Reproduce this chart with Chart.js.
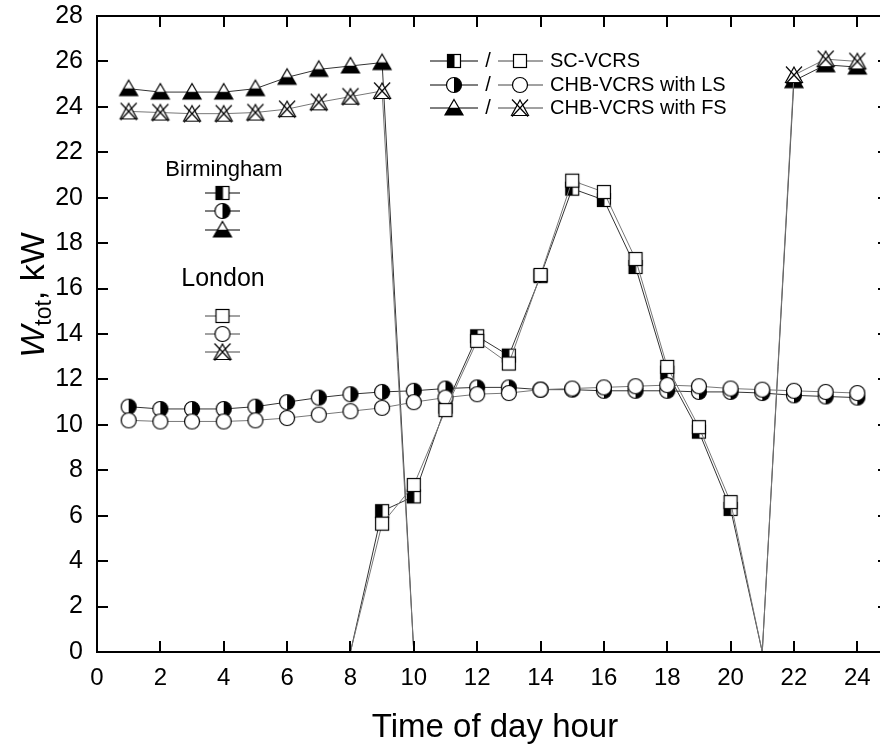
<!DOCTYPE html>
<html>
<head>
<meta charset="utf-8">
<title>W_tot vs time of day</title>
<script src="https://cdn.jsdelivr.net/npm/chart.js@4.4.1/dist/chart.umd.min.js"></script>
<style>
  html, body { margin: 0; padding: 0; background: #fff; overflow: hidden; }
  canvas { display: block; }
</style>
</head>
<body>
<canvas id="wtotChart" width="898" height="747"></canvas>
<script>
const FONT = "'Liberation Sans', Arial, sans-serif";

const hours = [1, 2, 3, 4, 5, 6, 7, 8, 9, 10, 11, 12, 13, 14, 15, 16, 17, 18, 19, 20, 21, 22, 23, 24];

// Birmingham
const bhamSC = [null, null, null, null, null, null, null, 0, 6.2, 6.85, 10.8, 13.9, 13.05, 16.55, 20.4, 19.9, 16.95, 12.3, 9.7, 6.3, 0, null, null, null];
const bhamLS = [10.8, 10.7, 10.7, 10.7, 10.8, 11.0, 11.2, 11.35, 11.45, 11.5, 11.6, 11.65, 11.65, 11.55, 11.55, 11.5, 11.5, 11.5, 11.45, 11.45, 11.4, 11.3, 11.25, 11.2];
const bhamFS = [24.8, 24.65, 24.65, 24.65, 24.8, 25.3, 25.65, 25.8, 25.95, 0, null, null, null, null, null, null, null, null, null, null, 0, 25.15, 25.85, 25.75];

// London
const londonSC = [null, null, null, null, null, null, null, 0, 5.65, 7.35, 10.65, 13.7, 12.7, 16.6, 20.75, 20.25, 17.3, 12.55, 9.9, 6.6, 0, null, null, null];
const londonLS = [10.2, 10.15, 10.15, 10.15, 10.2, 10.3, 10.45, 10.6, 10.75, 11.0, 11.2, 11.35, 11.4, 11.55, 11.6, 11.65, 11.7, 11.75, 11.7, 11.6, 11.55, 11.5, 11.45, 11.4];
const londonFS = [23.8, 23.75, 23.7, 23.7, 23.75, 23.9, 24.2, 24.45, 24.7, 0, null, null, null, null, null, null, null, null, null, null, 0, 25.4, 26.1, 26.0];

const seriesNames = ['SC-VCRS', 'CHB-VCRS with LS', 'CHB-VCRS with FS'];

const BHAM_LINE = '#333';
const LONDON_LINE = '#777';

// small canvases used as point styles
function makeMarker(kind) {
  const c = document.createElement('canvas');
  c.width = 22; c.height = 22;
  const g = c.getContext('2d');
  g.translate(11, 11);
  g.lineWidth = 1.2;
  g.strokeStyle = '#000';
  g.fillStyle = '#fff';
  if (kind === 'square' || kind === 'squareHalf') {
    g.fillRect(-6.5, -6.5, 13, 13);
    if (kind === 'squareHalf') {
      g.fillStyle = '#000';
      g.fillRect(-6.5, -6.5, 7, 13);
    }
    g.strokeRect(-6.5, -6.5, 13, 13);
  } else if (kind === 'circle' || kind === 'circleHalf') {
    g.beginPath(); g.arc(0, 0, 7.5, 0, Math.PI * 2); g.fill();
    if (kind === 'circleHalf') {
      g.fillStyle = '#000';
      g.beginPath(); g.arc(0, 0, 7.5, -Math.PI / 2, Math.PI / 2); g.closePath(); g.fill();
    }
    g.beginPath(); g.arc(0, 0, 7.5, 0, Math.PI * 2); g.stroke();
  } else if (kind === 'triHalf') {
    g.beginPath(); g.moveTo(0, -8.5); g.lineTo(9, 7); g.lineTo(-9, 7); g.closePath(); g.fill();
    g.fillStyle = '#000';
    g.beginPath(); g.moveTo(-4.9, -0.2); g.lineTo(4.9, -0.2); g.lineTo(9, 7); g.lineTo(-9, 7); g.closePath(); g.fill();
    g.beginPath(); g.moveTo(0, -8.5); g.lineTo(9, 7); g.lineTo(-9, 7); g.closePath(); g.stroke();
  } else if (kind === 'triX') {
    g.beginPath(); g.moveTo(0, -8); g.lineTo(8.5, 7.5); g.lineTo(-8.5, 7.5); g.closePath(); g.fill(); g.stroke();
    g.beginPath();
    g.moveTo(-8, -8.5); g.lineTo(8, 8.5);
    g.moveTo(8, -8.5); g.lineTo(-8, 8.5);
    g.stroke();
  }
  return c;
}

const bhamMarkers = [makeMarker('squareHalf'), makeMarker('circleHalf'), makeMarker('triHalf')];
const londonMarkers = [makeMarker('square'), makeMarker('circle'), makeMarker('triX')];

function toPoints(vals) {
  return hours.map((h, i) => ({ x: h, y: vals[i] }));
}

function makeDataset(label, vals, marker, color, order) {
  return {
    label: label,
    data: toPoints(vals),
    borderColor: color,
    borderWidth: 1,
    tension: 0,
    spanGaps: false,
    pointStyle: marker,
    pointRadius: ctx => (ctx.raw && ctx.raw.y === 0) ? 0 : 8,
    order: order
  };
}

const datasets = [
  makeDataset('Birmingham ' + seriesNames[0], bhamSC, bhamMarkers[0], BHAM_LINE, 2),
  makeDataset('Birmingham ' + seriesNames[1], bhamLS, bhamMarkers[1], BHAM_LINE, 2),
  makeDataset('Birmingham ' + seriesNames[2], bhamFS, bhamMarkers[2], BHAM_LINE, 2),
  makeDataset('London ' + seriesNames[0], londonSC, londonMarkers[0], LONDON_LINE, 1),
  makeDataset('London ' + seriesNames[1], londonLS, londonMarkers[1], LONDON_LINE, 1),
  makeDataset('London ' + seriesNames[2], londonFS, londonMarkers[2], LONDON_LINE, 1)
];

// box around the plot with inward tick marks
const framePlugin = {
  id: 'frame',
  afterDatasetsDraw(chart) {
    const ctx = chart.ctx, a = chart.chartArea;
    const xs = chart.scales.x, ys = chart.scales.y;
    const tl = 11;
    ctx.save();
    ctx.strokeStyle = '#000';
    ctx.lineWidth = 2;
    ctx.strokeRect(a.left, a.top, a.right - a.left, a.bottom - a.top);
    ctx.beginPath();
    xs.ticks.forEach(t => {
      const px = Math.round(xs.getPixelForValue(t.value));
      ctx.moveTo(px, a.bottom); ctx.lineTo(px, a.bottom - tl);
      ctx.moveTo(px, a.top); ctx.lineTo(px, a.top + tl);
    });
    ys.ticks.forEach(t => {
      const py = Math.round(ys.getPixelForValue(t.value));
      ctx.moveTo(a.left, py); ctx.lineTo(a.left + tl, py);
      ctx.moveTo(a.right, py); ctx.lineTo(a.right - tl, py);
    });
    ctx.stroke();
    ctx.restore();
  }
};

function lineWithMarker(ctx, x1, x2, y, mx, marker, color) {
  ctx.strokeStyle = color;
  ctx.lineWidth = 1;
  ctx.beginPath();
  ctx.moveTo(x1, y); ctx.lineTo(x2, y);
  ctx.stroke();
  ctx.drawImage(marker, mx - marker.width / 2, y - marker.height / 2);
}

// legend, city keys and axis titles
const textPlugin = {
  id: 'texts',
  afterDraw(chart) {
    const ctx = chart.ctx;
    ctx.save();
    ctx.fillStyle = '#000';

    // legend block
    const rows = [61, 85, 108];
    ctx.font = '20px ' + FONT;
    ctx.textBaseline = 'middle';
    rows.forEach((y, i) => {
      lineWithMarker(ctx, 430, 478, y, 454, bhamMarkers[i], '#000');
      ctx.fillStyle = '#000';
      ctx.textAlign = 'center';
      ctx.fillText('/', 488, y);
      lineWithMarker(ctx, 498, 543, y, 520, londonMarkers[i], '#444');
      ctx.textAlign = 'left';
      ctx.fillText(seriesNames[i], 550, y);
    });

    // city keys
    ctx.textAlign = 'center';
    ctx.font = '22px ' + FONT;
    ctx.fillText('Birmingham', 224, 170);
    [193, 211, 230].forEach((y, i) => lineWithMarker(ctx, 205, 240, y, 222.5, bhamMarkers[i], '#000'));
    ctx.font = '25px ' + FONT;
    ctx.fillText('London', 223, 279);
    [316, 334, 352].forEach((y, i) => lineWithMarker(ctx, 205, 240, y, 222.5, londonMarkers[i], '#444'));

    // x title
    ctx.font = '33px ' + FONT;
    ctx.textBaseline = 'alphabetic';
    ctx.fillText('Time of day hour', 495, 737);

    // y title: W_tot, kW
    ctx.translate(32, 295);
    ctx.rotate(-Math.PI / 2);
    const big = '34px ' + FONT, sub = '23px ' + FONT;
    ctx.font = 'italic ' + big;
    const wW = ctx.measureText('W').width;
    ctx.font = sub;
    const wSub = ctx.measureText('tot').width;
    ctx.font = big;
    const wRest = ctx.measureText(', kW').width;
    let x = -(wW + wSub + wRest) / 2;
    ctx.textAlign = 'left';
    ctx.textBaseline = 'alphabetic';
    ctx.font = 'italic ' + big;
    ctx.fillText('W', x, 12);
    x += wW;
    ctx.font = sub;
    ctx.fillText('tot', x, 19);
    x += wSub;
    ctx.font = big;
    ctx.fillText(', kW', x, 12);
    ctx.restore();
  }
};

const ctx = document.getElementById('wtotChart').getContext('2d');
const wtotChart = new Chart(ctx, {
  type: 'line',
  data: { datasets: datasets },
  options: {
    responsive: false,
    animation: false,
    events: [],
    layout: { padding: { top: 16, right: 6, left: 0, bottom: 0 } },
    plugins: {
      legend: { display: false },
      tooltip: { enabled: false }
    },
    scales: {
      x: {
        type: 'linear',
        min: 0,
        max: 25,
        grid: { display: false, drawTicks: false },
        border: { display: false },
        ticks: {
          stepSize: 2,
          includeBounds: false,
          autoSkip: false,
          maxRotation: 0,
          padding: 12,
          color: '#000',
          font: { family: FONT, size: 24 }
        },
        afterFit: s => { s.height = 95; s.paddingLeft = 0; s.paddingRight = 0; }
      },
      y: {
        min: 0,
        max: 28,
        grid: { display: false, drawTicks: false },
        border: { display: false },
        ticks: {
          stepSize: 2,
          padding: 14,
          color: '#000',
          font: { family: FONT, size: 25 }
        },
        afterFit: s => { s.width = 97; s.paddingTop = 0; s.paddingBottom = 0; }
      }
    }
  },
  plugins: [framePlugin, textPlugin]
});
</script>
</body>
</html>
